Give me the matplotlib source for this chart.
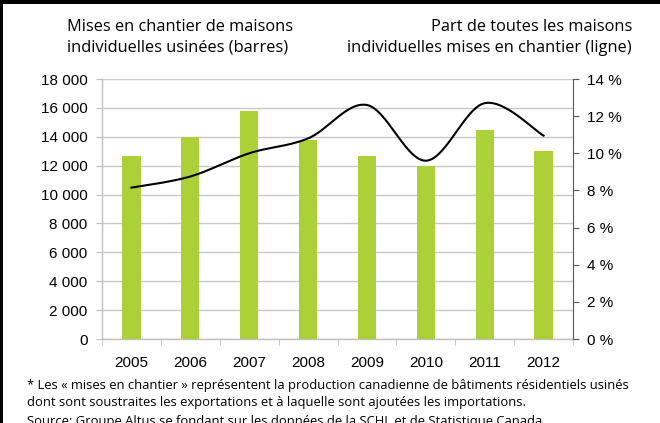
import numpy as np
import matplotlib.pyplot as plt
from matplotlib.patches import Rectangle

years = ['2005', '2006', '2007', '2008', '2009', '2010', '2011', '2012']
mises_usinees = [12700, 13950, 15750, 13750, 12650, 11950, 14500, 13050]
part_pct = [8.15, 8.75, 10.0, 10.8, 12.6, 9.6, 12.7, 10.95]

left_ticks = list(range(0, 18001, 2000))
right_ticks = list(range(0, 15, 2))

W, H = 660, 423
fig = plt.figure(figsize=(W / 100, H / 100), dpi=100)
fig.patch.set_facecolor('white')

ax = fig.add_axes([102 / W, 1 - 339 / H, 471 / W, 260 / H])
x = np.arange(len(years))
ax.bar(x, mises_usinees, width=0.31, color='#acd037', zorder=3)
ax.set_xlim(-0.5, len(years) - 0.5)
ax.set_ylim(0, 18000)
ax.set_yticks(left_ticks)
ax.set_yticklabels([f'{v:,}'.replace(',', ' ') for v in left_ticks])
ax.set_xticks(x)
ax.set_xticklabels(years)
ax.set_xticks(np.arange(-0.5, len(years), 1.0), minor=True)
ax.yaxis.grid(True, color='#c8c8c8', lw=1)
ax.set_axisbelow(True)
for s in ['top', 'right']:
    ax.spines[s].set_visible(False)
for s in ['left', 'bottom']:
    ax.spines[s].set_color('#bfbfbf')
    ax.spines[s].set_linewidth(1)
ax.tick_params(axis='y', direction='out', length=4, color='#bfbfbf', pad=6.5,
               labelsize=11, labelcolor='black')
ax.tick_params(axis='x', which='major', length=0, pad=12.5, labelsize=11)
ax.tick_params(axis='x', which='minor', direction='out', length=4, color='#bfbfbf')
for lab in ax.get_xticklabels() + ax.get_yticklabels():
    lab.set_fontfamily('Liberation Sans')

# smoothed line (bezier through the points, like the spreadsheet's smooth line)
ax2 = ax.twinx()
ax2.set_ylim(0, 14)
ax2.set_yticks(right_ticks)
ax2.set_yticklabels([f'{v} %' for v in right_ticks])
pts = np.column_stack([x, part_pct]).astype(float)
ext = np.vstack([pts[0], pts, pts[-1]])
curve = []
t = np.linspace(0, 1, 30)
for i in range(1, len(ext) - 2):
    p0, p1, p2, p3 = ext[i - 1], ext[i], ext[i + 1], ext[i + 2]
    c1 = p1 + (p2 - p0) / 6
    c2 = p2 - (p3 - p1) / 6
    seg = ((1 - t) ** 3)[:, None] * p1 + (3 * (1 - t) ** 2 * t)[:, None] * c1 \
        + (3 * (1 - t) * t ** 2)[:, None] * c2 + (t ** 3)[:, None] * p2
    curve.append(seg)
curve = np.vstack(curve)
ax2.plot(curve[:, 0], curve[:, 1], color='black', lw=1.5, zorder=4)
for s in ['top', 'left', 'bottom']:
    ax2.spines[s].set_visible(False)
ax2.spines['right'].set_color('#595959')
ax2.tick_params(axis='y', direction='out', length=4, color='#595959', pad=6,
                labelsize=11)
for lab in ax2.get_yticklabels():
    lab.set_fontfamily('Liberation Sans')

title_font = dict(family='Open Sans', fontsize=11.8, color='black')
fig.text(67 / W, 1 - 31 / H, 'Mises en chantier de maisons', ha='left', va='baseline', **title_font)
fig.text(67 / W, 1 - 52 / H, 'individuelles usinées (barres)', ha='left', va='baseline', **title_font)
fig.text(632 / W, 1 - 31 / H, 'Part de toutes les maisons', ha='right', va='baseline', **title_font)
fig.text(632 / W, 1 - 52 / H, 'individuelles mises en chantier (ligne)', ha='right', va='baseline', **title_font)

note_font = dict(family='Open Sans', fontsize=9.35, color='black')
fig.text(27 / W, 1 - 389 / H, '* Les « mises en chantier » représentent la production canadienne de bâtiments résidentiels usinés',
         ha='left', va='baseline', **note_font)
fig.text(27 / W, 1 - 406 / H, 'dont sont soustraites les exportations et à laquelle sont ajoutées les importations.',
         ha='left', va='baseline', **note_font)
fig.text(27 / W, 1 - 425 / H, 'Source: Groupe Altus se fondant sur les données de la SCHL et de Statistique Canada.',
         ha='left', va='baseline', **note_font)

# frame edges
fig.add_artist(Rectangle((0, 1 - 4 / H), 1, 4 / H, transform=fig.transFigure,
                         color='black', lw=0))
fig.add_artist(Rectangle((0, 0), 2.5 / W, 1, transform=fig.transFigure,
                         color='black', lw=0))

fig.savefig('out.png', dpi=100)
